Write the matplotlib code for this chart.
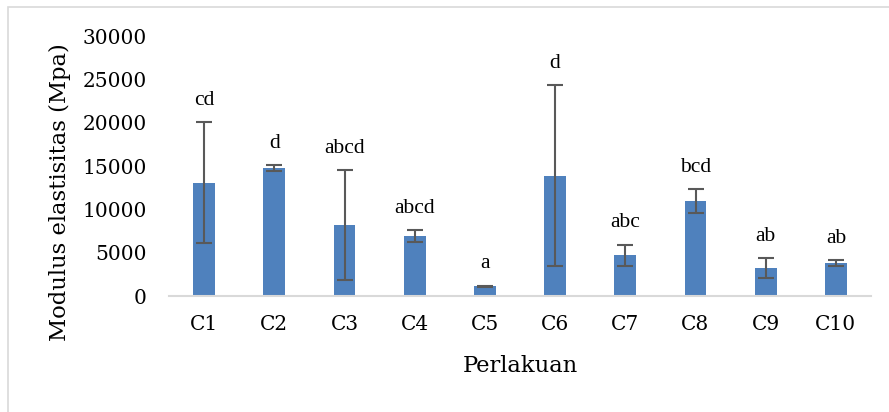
import numpy as np
import matplotlib.pyplot as plt
from matplotlib.patches import Rectangle

categories = ["C1", "C2", "C3", "C4", "C5", "C6", "C7", "C8", "C9", "C10"]
modulus = [13100, 14800, 8200, 6900, 1100, 13900, 4700, 11000, 3250, 3800]
sd = [7000, 350, 6350, 700, 100, 10450, 1250, 1350, 1150, 350]
letters = ["cd", "d", "abcd", "abcd", "a", "d", "abc", "bcd", "ab", "ab"]

fig = plt.figure(figsize=(8.89, 4.12), dpi=100)
fig.patches.append(Rectangle((8 / 889, -0.1), 2, 1 - 7 / 412 + 0.1,
                             transform=fig.transFigure, fill=False,
                             edgecolor="#d9d9d9", linewidth=1.2))

ax = fig.add_axes([169 / 889, 1 - 296 / 412, 702 / 889, 259.5 / 412])
x = np.arange(len(categories))
ax.bar(x, modulus, width=0.31, color="#4f81bd", zorder=2)
ax.errorbar(x, modulus, yerr=sd, fmt="none", ecolor="#595959",
            elinewidth=1.5, capsize=5.5, capthick=1.5, zorder=3)

for xi, m, s, lab in zip(x, modulus, sd, letters):
    ax.annotate(lab, (xi, m + s), xytext=(0, 12.5), textcoords="offset points",
                ha="center", va="baseline", fontsize=15.5,
                family="Liberation Serif", color="black")

ax.set_xlim(-0.5, len(categories) - 0.5)
ax.set_ylim(0, 30000)
ax.set_yticks(range(0, 30001, 5000))
ax.set_xticks(x)
ax.set_xticklabels(categories)
ax.tick_params(length=0, labelsize=14.5, labelcolor="black")
ax.tick_params(axis="y", pad=16)
ax.tick_params(axis="x", pad=14)
for t in ax.get_xticklabels() + ax.get_yticklabels():
    t.set_family("DejaVu Serif")

for side in ["top", "right", "left"]:
    ax.spines[side].set_visible(False)
ax.spines["bottom"].set_color("#d9d9d9")
ax.spines["bottom"].set_linewidth(1.5)

ax.set_ylabel("Modulus elastisitas (Mpa)", fontsize=16.3, family="DejaVu Serif",
              va="center", color="black")
ax.yaxis.set_label_coords(-0.155, 0.40)
ax.set_xlabel("Perlakuan", fontsize=16.3, family="DejaVu Serif",
              va="center", color="black")
ax.xaxis.set_label_coords(0.5, -0.27)

fig.savefig("out.png", dpi=100)
